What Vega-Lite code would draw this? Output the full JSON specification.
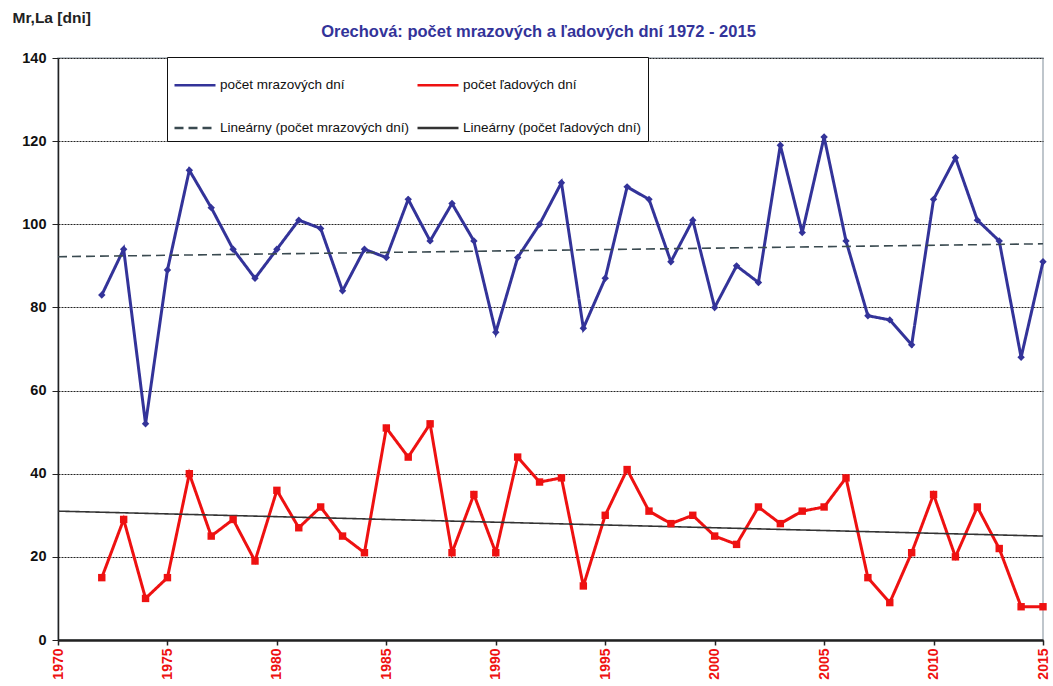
{
  "$schema": "https://vega.github.io/schema/vega-lite/v6.json",
  "width": 985,
  "height": 582,
  "autosize": {"type": "none"},
  "padding": {"left": 58, "top": 58, "right": 10, "bottom": 46},
  "background": "white",
  "config": {
    "font": "Liberation Sans",
    "view": {"stroke": "#aab4bc", "strokeWidth": 1.5}
  },
  "title": {
    "text": "Orechová: počet mrazových a ľadových dní 1972 - 2015",
    "color": "#333399",
    "fontSize": 16.5,
    "fontWeight": "bold",
    "anchor": "middle",
    "baseline": "alphabetic",
    "offset": 0,
    "dy": 43,
    "dx": -12
  },
  "datasets": {
    "d": [
      {"year": 1972, "series": "počet mrazových dní", "value": 83},
      {"year": 1973, "series": "počet mrazových dní", "value": 94},
      {"year": 1974, "series": "počet mrazových dní", "value": 52},
      {"year": 1975, "series": "počet mrazových dní", "value": 89},
      {"year": 1976, "series": "počet mrazových dní", "value": 113},
      {"year": 1977, "series": "počet mrazových dní", "value": 104},
      {"year": 1978, "series": "počet mrazových dní", "value": 94},
      {"year": 1979, "series": "počet mrazových dní", "value": 87},
      {"year": 1980, "series": "počet mrazových dní", "value": 94},
      {"year": 1981, "series": "počet mrazových dní", "value": 101},
      {"year": 1982, "series": "počet mrazových dní", "value": 99},
      {"year": 1983, "series": "počet mrazových dní", "value": 84},
      {"year": 1984, "series": "počet mrazových dní", "value": 94},
      {"year": 1985, "series": "počet mrazových dní", "value": 92},
      {"year": 1986, "series": "počet mrazových dní", "value": 106},
      {"year": 1987, "series": "počet mrazových dní", "value": 96},
      {"year": 1988, "series": "počet mrazových dní", "value": 105},
      {"year": 1989, "series": "počet mrazových dní", "value": 96},
      {"year": 1990, "series": "počet mrazových dní", "value": 74},
      {"year": 1991, "series": "počet mrazových dní", "value": 92},
      {"year": 1992, "series": "počet mrazových dní", "value": 100},
      {"year": 1993, "series": "počet mrazových dní", "value": 110},
      {"year": 1994, "series": "počet mrazových dní", "value": 75},
      {"year": 1995, "series": "počet mrazových dní", "value": 87},
      {"year": 1996, "series": "počet mrazových dní", "value": 109},
      {"year": 1997, "series": "počet mrazových dní", "value": 106},
      {"year": 1998, "series": "počet mrazových dní", "value": 91},
      {"year": 1999, "series": "počet mrazových dní", "value": 101},
      {"year": 2000, "series": "počet mrazových dní", "value": 80},
      {"year": 2001, "series": "počet mrazových dní", "value": 90},
      {"year": 2002, "series": "počet mrazových dní", "value": 86},
      {"year": 2003, "series": "počet mrazových dní", "value": 119},
      {"year": 2004, "series": "počet mrazových dní", "value": 98},
      {"year": 2005, "series": "počet mrazových dní", "value": 121},
      {"year": 2006, "series": "počet mrazových dní", "value": 96},
      {"year": 2007, "series": "počet mrazových dní", "value": 78},
      {"year": 2008, "series": "počet mrazových dní", "value": 77},
      {"year": 2009, "series": "počet mrazových dní", "value": 71},
      {"year": 2010, "series": "počet mrazových dní", "value": 106},
      {"year": 2011, "series": "počet mrazových dní", "value": 116},
      {"year": 2012, "series": "počet mrazových dní", "value": 101},
      {"year": 2013, "series": "počet mrazových dní", "value": 96},
      {"year": 2014, "series": "počet mrazových dní", "value": 68},
      {"year": 2015, "series": "počet mrazových dní", "value": 91},
      {"year": 1972, "series": "počet ľadových dní", "value": 15},
      {"year": 1973, "series": "počet ľadových dní", "value": 29},
      {"year": 1974, "series": "počet ľadových dní", "value": 10},
      {"year": 1975, "series": "počet ľadových dní", "value": 15},
      {"year": 1976, "series": "počet ľadových dní", "value": 40},
      {"year": 1977, "series": "počet ľadových dní", "value": 25},
      {"year": 1978, "series": "počet ľadových dní", "value": 29},
      {"year": 1979, "series": "počet ľadových dní", "value": 19},
      {"year": 1980, "series": "počet ľadových dní", "value": 36},
      {"year": 1981, "series": "počet ľadových dní", "value": 27},
      {"year": 1982, "series": "počet ľadových dní", "value": 32},
      {"year": 1983, "series": "počet ľadových dní", "value": 25},
      {"year": 1984, "series": "počet ľadových dní", "value": 21},
      {"year": 1985, "series": "počet ľadových dní", "value": 51},
      {"year": 1986, "series": "počet ľadových dní", "value": 44},
      {"year": 1987, "series": "počet ľadových dní", "value": 52},
      {"year": 1988, "series": "počet ľadových dní", "value": 21},
      {"year": 1989, "series": "počet ľadových dní", "value": 35},
      {"year": 1990, "series": "počet ľadových dní", "value": 21},
      {"year": 1991, "series": "počet ľadových dní", "value": 44},
      {"year": 1992, "series": "počet ľadových dní", "value": 38},
      {"year": 1993, "series": "počet ľadových dní", "value": 39},
      {"year": 1994, "series": "počet ľadových dní", "value": 13},
      {"year": 1995, "series": "počet ľadových dní", "value": 30},
      {"year": 1996, "series": "počet ľadových dní", "value": 41},
      {"year": 1997, "series": "počet ľadových dní", "value": 31},
      {"year": 1998, "series": "počet ľadových dní", "value": 28},
      {"year": 1999, "series": "počet ľadových dní", "value": 30},
      {"year": 2000, "series": "počet ľadových dní", "value": 25},
      {"year": 2001, "series": "počet ľadových dní", "value": 23},
      {"year": 2002, "series": "počet ľadových dní", "value": 32},
      {"year": 2003, "series": "počet ľadových dní", "value": 28},
      {"year": 2004, "series": "počet ľadových dní", "value": 31},
      {"year": 2005, "series": "počet ľadových dní", "value": 32},
      {"year": 2006, "series": "počet ľadových dní", "value": 39},
      {"year": 2007, "series": "počet ľadových dní", "value": 15},
      {"year": 2008, "series": "počet ľadových dní", "value": 9},
      {"year": 2009, "series": "počet ľadových dní", "value": 21},
      {"year": 2010, "series": "počet ľadových dní", "value": 35},
      {"year": 2011, "series": "počet ľadových dní", "value": 20},
      {"year": 2012, "series": "počet ľadových dní", "value": 32},
      {"year": 2013, "series": "počet ľadových dní", "value": 22},
      {"year": 2014, "series": "počet ľadových dní", "value": 8},
      {"year": 2015, "series": "počet ľadových dní", "value": 8},
      {"year": 1970, "series": "Lineárny (počet mrazových dní)", "value": 92.2},
      {"year": 2015, "series": "Lineárny (počet mrazových dní)", "value": 95.3},
      {"year": 1970, "series": "Lineárny (počet ľadových dní)", "value": 31.0},
      {"year": 2015, "series": "Lineárny (počet ľadových dní)", "value": 25.0}
    ]
  },
  "data": {"name": "d"},
  "encoding": {
    "x": {
      "field": "year",
      "type": "quantitative",
      "scale": {"domain": [1970, 2015], "nice": false, "zero": false},
      "axis": {
        "title": null,
        "values": [1970, 1975, 1980, 1985, 1990, 1995, 2000, 2005, 2010, 2015],
        "format": "d",
        "labelAngle": -90,
        "labelColor": "#ee1111",
        "labelFontWeight": "bold",
        "labelFontSize": 14,
        "labelPadding": 3,
        "domainColor": "#222222",
        "domainWidth": 2.5,
        "tickColor": "#222222",
        "tickSize": 5,
        "tickWidth": 1.5,
        "grid": false
      }
    },
    "y": {
      "field": "value",
      "type": "quantitative",
      "scale": {"domain": [0, 140], "nice": false},
      "axis": {
        "values": [0, 20, 40, 60, 80, 100, 120, 140],
        "title": "Mr,La [dni]",
        "titleAngle": 0,
        "titleX": -46,
        "titleY": -36,
        "titleAlign": "left",
        "titleBaseline": "alphabetic",
        "titleFontSize": 15.5,
        "titleFontWeight": "bold",
        "titleColor": "#222222",
        "labelFontSize": 14.5,
        "labelFontWeight": "bold",
        "labelColor": "#111111",
        "labelPadding": 6,
        "domainColor": "#222222",
        "domainWidth": 1.5,
        "tickColor": "#222222",
        "tickSize": 6,
        "grid": true,
        "gridColor": "#222222",
        "gridDash": [2, 1],
        "gridWidth": 1
      }
    }
  },
  "layer": [
    {
      "transform": [{"filter": "indexof(datum.series, 'Lineárny') < 0"}],
      "mark": {"type": "line", "strokeWidth": 3},
      "encoding": {
        "color": {
          "field": "series",
          "type": "nominal",
          "sort": null,
          "scale": {
            "domain": ["počet mrazových dní", "počet ľadových dní", "Lineárny (počet mrazových dní)", "Lineárny (počet ľadových dní)"],
            "range": ["#333399", "#ee1111", "#3a4a50", "#333333"]
          },
          "legend": {
            "title": null,
            "orient": "none",
            "legendX": 109,
            "legendY": -1,
            "columns": 2,
            "direction": "horizontal",
            "symbolType": "stroke",
            "symbolSize": 1681,
            "symbolStrokeWidth": 2.5,
            "labelFontSize": 13.5,
            "labelColor": "#111111",
            "labelOffset": 3,
            "labelLimit": 400,
            "columnPadding": 2,
            "rowPadding": 14,
            "padding": 6,
            "fillColor": "white",
            "strokeColor": "#111111"
          }
        },
        "strokeDash": {
          "field": "series",
          "type": "nominal",
          "sort": null,
          "scale": {
            "domain": ["počet mrazových dní", "počet ľadových dní", "Lineárny (počet mrazových dní)", "Lineárny (počet ľadových dní)"],
            "range": [[1, 0], [1, 0], [9, 5], [1, 0]]
          },
          "legend": {"title": null}
        }
      }
    },
    {
      "transform": [{"filter": "indexof(datum.series, 'Lineárny') >= 0"}],
      "mark": {"type": "line", "strokeWidth": 1.6},
      "encoding": {
        "color": {"field": "series", "type": "nominal", "sort": null},
        "strokeDash": {"field": "series", "type": "nominal", "sort": null}
      }
    },
    {
      "transform": [{"filter": "indexof(datum.series, 'Lineárny') < 0"}],
      "mark": {"type": "point", "filled": true, "opacity": 1, "size": 55},
      "encoding": {
        "color": {"field": "series", "type": "nominal", "sort": null},
        "shape": {
          "field": "series",
          "type": "nominal",
          "scale": {"domain": ["počet mrazových dní", "počet ľadových dní"], "range": ["diamond", "square"]},
          "legend": null
        }
      }
    }
  ]
}
